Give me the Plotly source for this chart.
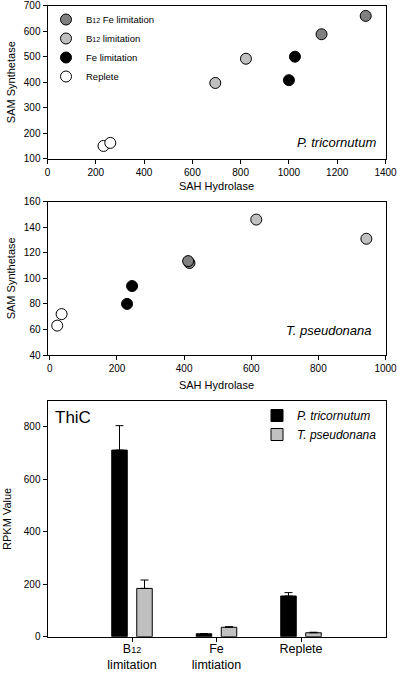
import plotly.graph_objects as go

# ---------------- data ----------------
# Panel 1: P. tricornutum (SAH Hydrolase vs SAM Synthetase)
pt_b12fe_x = [1135, 1318]
pt_b12fe_y = [588, 660]
pt_b12_x = [695, 822]
pt_b12_y = [397, 492]
pt_fe_x = [1000, 1025]
pt_fe_y = [408, 500]
pt_rep_x = [232, 260]
pt_rep_y = [150, 162]

# Panel 2: T. pseudonana
tp_b12fe_x = [416, 412]
tp_b12fe_y = [112, 113.5]
tp_b12_x = [615, 943]
tp_b12_y = [146, 131]
tp_fe_x = [230, 245]
tp_fe_y = [80, 94]
tp_rep_x = [22, 35]
tp_rep_y = [63, 72]

# Panel 3: ThiC RPKM
sub_tick = "<span style='font-size:9px'>12</span>"
bar_categories = ["B" + sub_tick + "<br>limitation", "Fe<br>limtiation", "Replete"]
thic_pt = [711, 11, 155]
thic_pt_err = [93, 1, 13]
thic_tp = [184, 36, 15]
thic_tp_err = [32, 2, 2]

x1_ticks = [0, 200, 400, 600, 800, 1000, 1200, 1400]
y1_ticks = [100, 200, 300, 400, 500, 600, 700]
x2_ticks = [0, 200, 400, 600, 800, 1000]
y2_ticks = [40, 60, 80, 100, 120, 140, 160]
y3_ticks = [0, 200, 400, 600, 800]

sub_leg = "<span style='font-size:7px'>12</span>"
series_names = ["B" + sub_leg + " Fe limitation", "B" + sub_leg + " limitation", "Fe limitation", "Replete"]
series_colors = ["#808080", "#c0c0c0", "#000000", "#ffffff"]

FONT = "Liberation Sans, Arial, sans-serif"

fig = go.Figure()

pt_sets = [(pt_b12fe_x, pt_b12fe_y), (pt_b12_x, pt_b12_y), (pt_fe_x, pt_fe_y), (pt_rep_x, pt_rep_y)]
tp_sets = [(tp_b12fe_x, tp_b12fe_y), (tp_b12_x, tp_b12_y), (tp_fe_x, tp_fe_y), (tp_rep_x, tp_rep_y)]

for (xs, ys), name, col in zip(pt_sets, series_names, series_colors):
    fig.add_trace(go.Scatter(
        x=xs, y=ys, mode="markers", name=name, legend="legend",
        marker=dict(size=11, color=col, line=dict(color="black", width=1)),
        xaxis="x", yaxis="y"))

for (xs, ys), name, col in zip(tp_sets, series_names, series_colors):
    fig.add_trace(go.Scatter(
        x=xs, y=ys, mode="markers", name=name, showlegend=False,
        marker=dict(size=11, color=col, line=dict(color="black", width=1)),
        xaxis="x2", yaxis="y2"))

fig.add_trace(go.Bar(
    x=bar_categories, y=thic_pt, name="<i>P. tricornutum</i>", legend="legend2",
    marker=dict(color="black", line=dict(color="black", width=1)),
    error_y=dict(type="data", array=thic_pt_err, arrayminus=[0, 0, 0], symmetric=False,
                 color="black", thickness=1, width=4),
    xaxis="x3", yaxis="y3"))
fig.add_trace(go.Bar(
    x=bar_categories, y=thic_tp, name="<i>T. pseudonana</i>", legend="legend2",
    marker=dict(color="#c0c0c0", line=dict(color="black", width=1)),
    error_y=dict(type="data", array=thic_tp_err, arrayminus=[0, 0, 0], symmetric=False,
                 color="black", thickness=1, width=4),
    xaxis="x3", yaxis="y3"))

W, H = 397, 673
xdom = [47.5 / W, 385.5 / W]
ax_common = dict(showline=True, linecolor="black", linewidth=1, mirror=True,
                 ticks="outside", ticklen=4, tickcolor="black", showgrid=False,
                 zeroline=False, ticklabeloverflow="allow", automargin=False,
                 tickfont=dict(size=10, color="black", family=FONT))

fig.update_layout(
    width=W, height=H, autosize=False,
    margin=dict(l=0, r=0, t=0, b=0),
    paper_bgcolor="white", plot_bgcolor="white",
    font=dict(family=FONT, color="black"),
    barmode="group", bargap=0.408, bargroupgap=0.38,
    xaxis=dict(domain=xdom, range=[0, 1400], tickvals=x1_ticks, anchor="y",
               title=dict(text="SAH Hydrolase", font=dict(size=11), standoff=5), **ax_common),
    yaxis=dict(domain=[1 - 158.7 / H, 1 - 5.7 / H], range=[100, 700], tickvals=y1_ticks, anchor="x",
               title=dict(text="SAM Synthetase", font=dict(size=11), standoff=5), **ax_common),
    xaxis2=dict(domain=xdom, range=[-7, 1000], tickvals=x2_ticks, anchor="y2",
                title=dict(text="SAH Hydrolase", font=dict(size=11), standoff=8), **ax_common),
    yaxis2=dict(domain=[1 - 355 / H, 1 - 201.7 / H], range=[40, 160], tickvals=y2_ticks, anchor="x2",
                title=dict(text="SAM Synthetase", font=dict(size=11), standoff=5), **ax_common),
    xaxis3=dict(domain=xdom, range=[-1, 3], anchor="y3", type="category", ticklabelstandoff=-4,
                **{**ax_common, "tickfont": dict(size=12.5, color="black", family=FONT)}),
    yaxis3=dict(domain=[1 - 636.7 / H, 1 - 401 / H], range=[0, 898], tickvals=y3_ticks, anchor="x3",
                title=dict(text="RPKM Value", font=dict(size=11), standoff=9), **ax_common),
    legend=dict(x=46 / W, y=1 - 5 / H, xanchor="left", yanchor="top",
                bgcolor="rgba(0,0,0,0)", font=dict(size=9.5, color="black", family=FONT)),
    legend2=dict(x=257 / W, y=1 - 401 / H, xanchor="left", yanchor="top",
                 bgcolor="rgba(0,0,0,0)", font=dict(size=12, color="black", family=FONT)),
    annotations=[
        dict(text="<i>P. tricornutum</i>", xref="x domain", yref="y domain", x=0.978, y=0.103,
             xanchor="right", yanchor="middle", showarrow=False, font=dict(size=13)),
        dict(text="<i>T. pseudonana</i>", xref="x2 domain", yref="y2 domain", x=0.967, y=0.163,
             xanchor="right", yanchor="middle", showarrow=False, font=dict(size=13)),
        dict(text="ThiC", xref="x3 domain", yref="y3 domain", x=0.017, y=0.932,
             xanchor="left", yanchor="middle", showarrow=False, font=dict(size=17)),
    ],
)

fig.write_html(
    "out.html", config={"displayModeBar": False, "responsive": False},
    post_script=("document.documentElement.style.overflow='hidden';"
                 "document.body.style.overflow='hidden';"
                 "document.body.style.margin='0';"))
